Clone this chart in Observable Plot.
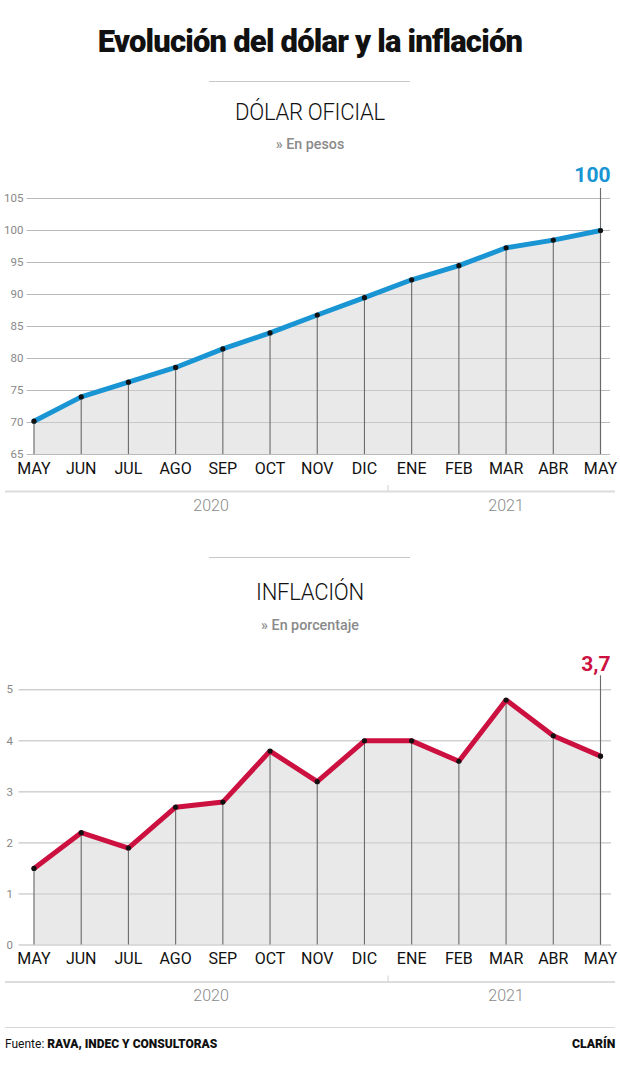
<!DOCTYPE html>
<html>
<head>
<meta charset="utf-8">
<script src="https://cdn.jsdelivr.net/npm/d3@7"></script>
<script src="https://cdn.jsdelivr.net/npm/@observablehq/plot@0.6"></script>
<style>
  html, body { margin: 0; padding: 0; background: #fff; }
  body { width: 620px; height: 1070px; position: relative; font-family: Roboto, "Noto Sans", sans-serif; color: #111; overflow: hidden; }
  .abs { position: absolute; left: 0; width: 620px; text-align: center; white-space: nowrap; }
  .title { font-weight: 900; font-size: 31px; line-height: 36px; letter-spacing: -0.8px; transform: scaleX(1.0); transform-origin: 310px 0; }
  .divider { position: absolute; left: 209px; width: 201px; height: 0; border-top: 1px solid #c8c8c8; }
  .sub { font-weight: 300; font-size: 23px; line-height: 26px; transform: scaleX(0.96); transform-origin: 310px 0; letter-spacing: -0.3px; }
  .unit { font-weight: 500; font-size: 14px; line-height: 16px; color: #8a8a8a; transform: scaleX(1.02); transform-origin: 310px 0; }
  .chart { position: absolute; left: 0; }
  .foot { position: absolute; font-size: 12.5px; line-height: 14px; white-space: nowrap; transform-origin: 0 0; }
  svg [aria-label^="x-axis"] { font-size: 16px; color: #111; }
  svg [aria-label^="y-axis"] { font-size: 11.5px; color: #888; }
</style>
</head>
<body>
<div class="abs title" style="top:24px">Evolución del dólar y la inflación</div>
<div class="divider" style="top:81px"></div>
<div class="abs sub" style="top:100px">DÓLAR OFICIAL</div>
<div class="abs unit" style="top:136px">» En pesos</div>
<div id="c1" class="chart" style="top:160px"></div>
<div class="divider" style="top:557px"></div>
<div class="abs sub" style="top:580px">INFLACIÓN</div>
<div class="abs unit" style="top:617px">» En porcentaje</div>
<div id="c2" class="chart" style="top:640px"></div>
<div style="position:absolute; left:5px; width:610px; top:1027px; border-top:1px solid #d8d8d8;"></div>
<div class="foot" style="left:5px; top:1037px; transform: scaleX(0.96);">Fuente: <b style="font-weight:900">RAVA, INDEC Y CONSULTORAS</b></div>
<div class="foot" style="right:5px; top:1037px; font-weight:900; transform: scaleX(0.98); transform-origin: 100% 0;">CLARÍN</div>
<script>
// ---- data ----
const months = ["MAY","JUN","JUL","AGO","SEP","OCT","NOV","DIC","ENE","FEB","MAR","ABR","MAY"];
const years = ["2020","2021"];
const yearFirstMonth = [0, 8];
const dolar = [70.2, 74.0, 76.3, 78.6, 81.5, 84.0, 86.8, 89.5, 92.3, 94.5, 97.3, 98.5, 100];
const dolarTicks = [65, 70, 75, 80, 85, 90, 95, 100, 105];
const inflacion = [1.5, 2.2, 1.9, 2.7, 2.8, 3.8, 3.2, 4.0, 4.0, 3.6, 4.8, 4.1, 3.7];
const inflacionTicks = [0, 1, 2, 3, 4, 5];

function makeChart(o) {
  const data = o.values.map((v, i) => ({i, v, m: months[i]}));
  const base = o.ticks[0], top = o.ticks[o.ticks.length - 1];
  const last = data[data.length - 1];
  const yearData = years.map((label, k) => {
    const s = yearFirstMonth[k];
    const start = k === 0 ? s : s - 0.5;
    const end = k + 1 < years.length ? yearFirstMonth[k + 1] - 0.5 : months.length - 0.5;
    return {label, x: (start + end) / 2};
  });
  const seps = yearFirstMonth.slice(1).map(s => s - 0.5);
  const fmt = v => String(v).replace(".", ",");
  return Plot.plot({
    width: 620,
    height: o.height,
    marginTop: o.marginTop,
    marginBottom: o.marginBottom,
    marginLeft: 33.5,
    marginRight: 20,
    style: {fontFamily: "Roboto, 'Noto Sans', sans-serif", background: "transparent", overflow: "visible"},
    x: {domain: [0, months.length - 1], ticks: data.map(d => d.i), tickFormat: i => months[i], tickSize: 0, tickPadding: o.xPad, label: null},
    y: {domain: [base, top], ticks: o.ticks, tickSize: 0, tickPadding: o.yPad, label: null, tickFormat: d => String(d)},
    marks: [
      Plot.ruleY(o.ticks, {stroke: "#b9b9b9", strokeWidth: 1, insetLeft: -o.gridL, insetRight: -o.gridR}),
      Plot.areaY(data, {x: "i", y1: base, y2: "v", fill: "#d4d4d4", fillOpacity: 0.52}),
      Plot.ruleX(data, {x: "i", y1: base, y2: "v", stroke: "#6a6a6a", strokeWidth: 1.1}),
      Plot.ruleX([last], {x: "i", y1: top, y2: base, insetTop: -o.ext, stroke: "#6a6a6a", strokeWidth: 1.1}),
      Plot.lineY(data, {x: "i", y: "v", stroke: o.color, strokeWidth: 5, strokeLinejoin: "miter"}),
      Plot.dot(data, {x: "i", y: "v", r: 2.6, fill: "#111", stroke: null}),
      Plot.text([last], {x: "i", y: top, text: d => fmt(d.v), dy: o.labelDy, dx: 10, textAnchor: "end", fill: o.color, fontSize: 21, fontWeight: 700, letterSpacing: "-0.5px"}),
      Plot.ruleY([base], {dy: 37, stroke: "#dcdcdc", strokeWidth: 2, insetLeft: -28.5, insetRight: -15}),
      Plot.ruleX(seps, {x: d => d, y1: base, y2: base, insetTop: -6, dy: 37, stroke: "#cfcfcf", strokeWidth: 1}),
      Plot.text(yearData, {x: "x", y: base, text: "label", dy: 51, fill: "#8a8a8a", fontSize: 16, fontWeight: 300})
    ]
  });
}

document.getElementById("c1").appendChild(makeChart({
  values: dolar, ticks: dolarTicks, color: "#1a95d3",
  height: 360, marginTop: 38, marginBottom: 66,
  xPad: 8.5, yPad: 10.5, gridL: 7, gridR: 10, ext: 10, labelDy: -23
}));
document.getElementById("c2").appendChild(makeChart({
  values: inflacion, ticks: inflacionTicks, color: "#cc1040",
  height: 370, marginTop: 49.3, marginBottom: 65.5,
  xPad: 7.5, yPad: 21, gridL: 15, gridR: 11, ext: 14, labelDy: -26
}));
</script>
</body>
</html>
